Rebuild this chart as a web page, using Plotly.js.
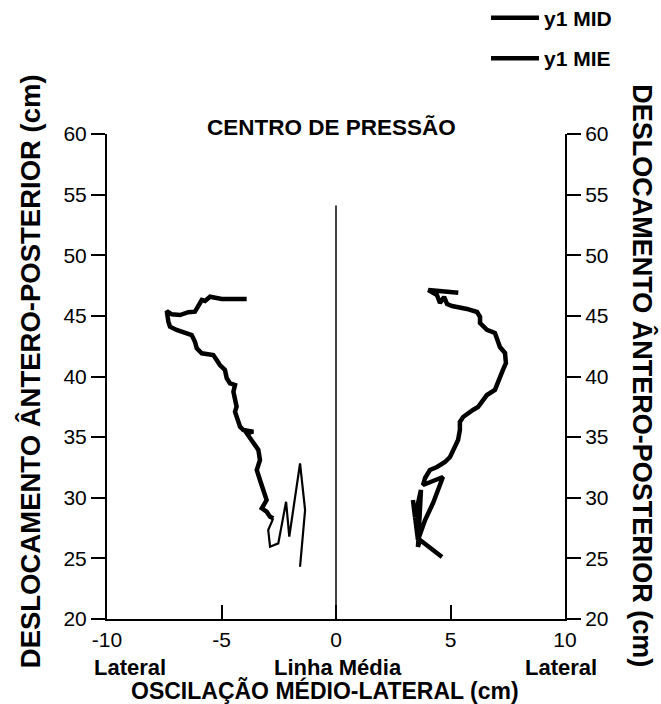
<!DOCTYPE html>
<html>
<head>
<meta charset="utf-8">
<script src="https://cdn.plot.ly/plotly-3.0.1.min.js"></script>
<style>html,body{margin:0;padding:0;background:#fff;}#chart{width:661px;height:704px;}</style>
</head>
<body>
<div id="chart"></div>
<script>
// Right curve (MID)
const midX = [5.34,4.03,4.41,4.54,4.72,4.85,5.07,5.41,5.72,6.16,6.29,6.29,6.59,6.94,7.07,7.16,7.38,7.42,7.29,7.16,7.07,6.94,6.59,6.42,6.20,5.98,5.76,5.55,5.41,5.41,5.33,5.11,4.98,4.76,4.41,4.10,3.89,3.80,4.67,4.24,3.89,3.58,3.36,3.45,3.71,3.58,3.67,4.63];
const midY = [46.91,47.13,46.72,46.06,46.56,45.98,45.81,45.73,45.57,45.32,44.91,44.41,43.84,43.59,42.85,42.43,41.94,41.11,40.54,39.96,39.46,38.89,38.47,38.06,37.48,37.24,36.99,36.66,36.25,35.59,34.76,33.94,33.36,32.95,32.54,32.29,31.63,31.05,31.71,29.57,28.16,26.52,29.81,28.41,30.64,25.94,26.52,25.11];
// Left curve (MIE), dense part
const mieX = [-3.90,-4.99,-5.50,-5.72,-5.86,-6.01,-6.16,-6.45,-6.81,-7.17,-7.39,-7.32,-7.25,-6.96,-6.52,-6.30,-6.16,-6.08,-5.86,-5.36,-5.21,-5.07,-4.85,-4.77,-4.63,-4.41,-4.48,-4.41,-4.34,-4.41,-4.27,-4.19,-4.05,-3.61,-3.90,-3.61,-3.39,-3.32,-3.46,-3.32,-3.17,-3.03,-3.24,-3.03,-2.88,-2.74];
const mieY = [46.39,46.39,46.58,46.23,46.31,45.76,45.35,45.30,45.07,45.13,45.40,44.52,44.11,43.84,43.56,43.42,42.87,42.33,41.91,41.77,41.36,40.95,40.54,39.85,39.44,39.30,38.75,38.06,37.51,37.10,36.27,35.86,35.59,35.45,35.32,34.62,33.94,33.11,32.29,31.46,30.64,29.81,29.13,28.85,28.44,28.30];
// Left curve (MIE), sparse spikes at the start
const mieSpikeX = [-2.74,-2.96,-2.88,-2.52,-2.18,-2.04,-1.57,-1.35,-1.57];
const mieSpikeY = [28.30,27.34,25.96,26.24,29.67,26.79,32.84,28.99,24.31];
// Midline
const midlineX = [0, 0];
const midlineY = [20, 54.1];

const xTicks = [-10, -5, 0, 5, 10];
const yTicks = [20, 25, 30, 35, 40, 45, 50, 55, 60];
const seriesNames = ['y1 MID', 'y1 MIE'];

const FONT = 'Arial, "Liberation Sans", sans-serif';

const traces = [
  {x: midX, y: midY, type: 'scatter', mode: 'lines', name: seriesNames[0], legendgroup: 'a',
   line: {color: '#000', width: 4.5}},
  {x: mieX, y: mieY, type: 'scatter', mode: 'lines', name: seriesNames[1], legendgroup: 'b',
   line: {color: '#000', width: 4.5}},
  {x: mieSpikeX, y: mieSpikeY, type: 'scatter', mode: 'lines', showlegend: false, legendgroup: 'b',
   line: {color: '#000', width: 2.2}},
  {x: midlineX, y: midlineY, type: 'scatter', mode: 'lines', showlegend: false, yaxis: 'y2',
   line: {color: '#000', width: 1.5}}
];

const tickFont = {family: FONT, size: 21, color: '#000'};
const boldFont = (s) => ({family: FONT, size: s, color: '#000', weight: 'bold'});

const layout = {
  width: 661, height: 704,
  margin: {l: 107, r: 96, t: 134, b: 85, autoexpand: false},
  paper_bgcolor: '#fff', plot_bgcolor: '#fff',
  showlegend: true,
  legend: {x: 0.8275, xanchor: 'left', y: 1.281, yanchor: 'top', bgcolor: 'rgba(0,0,0,0)',
           font: boldFont(21), tracegroupgap: 10, itemwidth: 48},
  xaxis: {range: [-10, 10], tickvals: xTicks, ticktext: xTicks.map(String), ticks: 'inside', ticklen: 14,
          tickwidth: 2, tickcolor: '#000', showline: true, linecolor: '#000', linewidth: 2,
          showgrid: false, zeroline: false, tickfont: tickFont, fixedrange: true, ticklabelstandoff: 1},
  yaxis: {range: [20, 60], tickvals: yTicks, ticktext: yTicks.map(String), ticks: 'outside', ticklen: 14,
          tickwidth: 2, tickcolor: '#000', showline: true, linecolor: '#000', linewidth: 2,
          showgrid: false, zeroline: false, tickfont: tickFont, fixedrange: true},
  yaxis2: {range: [20, 60], overlaying: 'y', side: 'right', tickvals: yTicks, ticktext: yTicks.map(String),
           ticks: 'outside', ticklen: 14, tickwidth: 2, tickcolor: '#000', showline: true, linecolor: '#000',
           linewidth: 2, showgrid: false, zeroline: false, tickfont: tickFont, fixedrange: true},
  annotations: [
    {text: 'CENTRO DE PRESSÃO', xref: 'paper', yref: 'paper', x: 0.491, y: 1.0144, xanchor: 'center', yanchor: 'middle',
     showarrow: false, font: boldFont(22.5)},
    {text: 'DESLOCAMENTO ÂNTERO-POSTERIOR (cm)', xref: 'paper', yref: 'paper', x: -0.168, y: 0.511, textangle: -90,
     xanchor: 'center', yanchor: 'middle', showarrow: false, font: boldFont(27.5)},
    {text: 'DESLOCAMENTO ÂNTERO-POSTERIOR (cm)', xref: 'paper', yref: 'paper', x: 1.170, y: 0.501, textangle: 90,
     xanchor: 'center', yanchor: 'middle', showarrow: false, font: boldFont(27)},
    {text: 'Lateral', xref: 'x', yref: 'paper', x: -9.0, y: -0.099, xanchor: 'center', yanchor: 'middle',
     showarrow: false, font: boldFont(22)},
    {text: 'Linha Média', xref: 'x', yref: 'paper', x: 0.08, y: -0.099, xanchor: 'center', yanchor: 'middle',
     showarrow: false, font: boldFont(22)},
    {text: 'Lateral', xref: 'x', yref: 'paper', x: 9.82, y: -0.099, xanchor: 'center', yanchor: 'middle',
     showarrow: false, font: boldFont(22)},
    {text: 'OSCILAÇÃO MÉDIO-LATERAL (cm)', xref: 'paper', yref: 'paper', x: 0.476, y: -0.148, xanchor: 'center',
     yanchor: 'middle', showarrow: false, font: boldFont(23)}
  ]
};

Plotly.newPlot('chart', traces, layout, {displayModeBar: false, staticPlot: true});
</script>
</body>
</html>
